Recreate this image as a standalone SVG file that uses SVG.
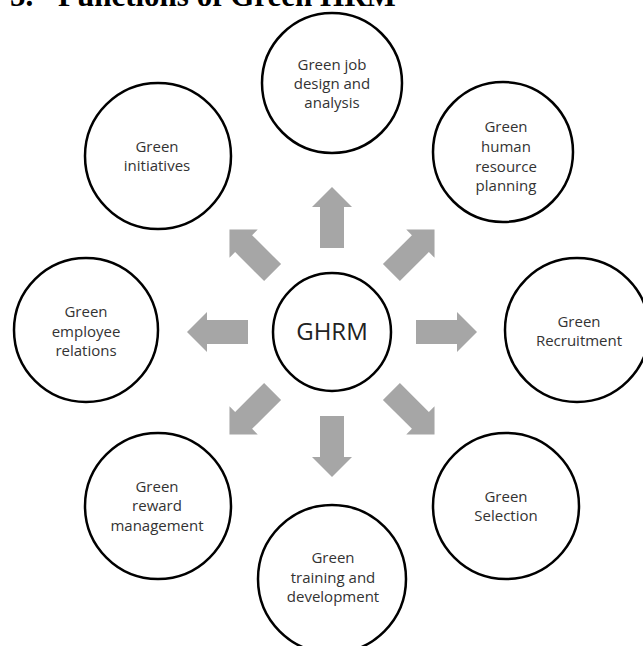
<svg xmlns="http://www.w3.org/2000/svg" width="643" height="646" viewBox="0 0 643 646">
<style>
.title{font-family:"Liberation Serif","Times New Roman",serif;font-weight:bold;font-size:31px;fill:#000}
.node circle{fill:#fff;stroke:#000;stroke-width:2.5}
.node text{font-family:"Open Sans","Liberation Sans",sans-serif;font-size:15px;fill:#333;text-anchor:middle}
.hub text{font-size:24px;fill:#222}
.arrow{fill:#A6A6A6}
</style>
<defs>
<path id="arr" d="M -12 -84 L -12 -125 L -20 -125 L 0 -145 L 20 -125 L 12 -125 L 12 -84 Z"/>
</defs>
<rect width="643" height="646" fill="#fff"/>
<text class="title" x="10" y="6">5.</text>
<text class="title" x="58" y="6">Functions of Green HRM</text>

<g id="connectors" class="arrow">
<use href="#arr" transform="translate(332,332) rotate(0)"/>
<use href="#arr" transform="translate(332,332) rotate(45)"/>
<use href="#arr" transform="translate(332,332) rotate(90)"/>
<use href="#arr" transform="translate(332,332) rotate(135)"/>
<use href="#arr" transform="translate(332,332) rotate(180)"/>
<use href="#arr" transform="translate(332,332) rotate(225)"/>
<use href="#arr" transform="translate(332,332) rotate(270)"/>
<use href="#arr" transform="translate(332,332) rotate(315)"/>
</g>

<g id="ghrm" class="node hub">
<circle cx="332" cy="332" r="59"/>
<text x="332" y="340">GHRM</text>
</g>

<g id="job-design" class="node">
<circle cx="332" cy="83" r="70"/>
<text x="332" y="70">Green job</text>
<text x="332" y="89">design and</text>
<text x="332" y="108">analysis</text>
</g>

<g id="hr-planning" class="node">
<circle cx="503" cy="152" r="70"/>
<text x="506" y="132">Green</text>
<text x="506" y="152">human</text>
<text x="506" y="172">resource</text>
<text x="506" y="191">planning</text>
</g>

<g id="recruitment" class="node">
<circle cx="577" cy="330" r="72"/>
<text x="579" y="327">Green</text>
<text x="579" y="346">Recruitment</text>
</g>

<g id="selection" class="node">
<circle cx="506" cy="506" r="73"/>
<text x="506" y="502">Green</text>
<text x="506" y="521">Selection</text>
</g>

<g id="training" class="node">
<circle cx="332" cy="579" r="74"/>
<text x="333" y="563">Green</text>
<text x="333" y="583">training and</text>
<text x="333" y="602">development</text>
</g>

<g id="reward" class="node">
<circle cx="158" cy="506" r="73"/>
<text x="157" y="492">Green</text>
<text x="157" y="511">reward</text>
<text x="157" y="531">management</text>
</g>

<g id="employee-relations" class="node">
<circle cx="86" cy="330" r="72"/>
<text x="86" y="317">Green</text>
<text x="86" y="337">employee</text>
<text x="86" y="356">relations</text>
</g>

<g id="initiatives" class="node">
<circle cx="158" cy="156" r="73"/>
<text x="157" y="152">Green</text>
<text x="157" y="171">initiatives</text>
</g>
</svg>
